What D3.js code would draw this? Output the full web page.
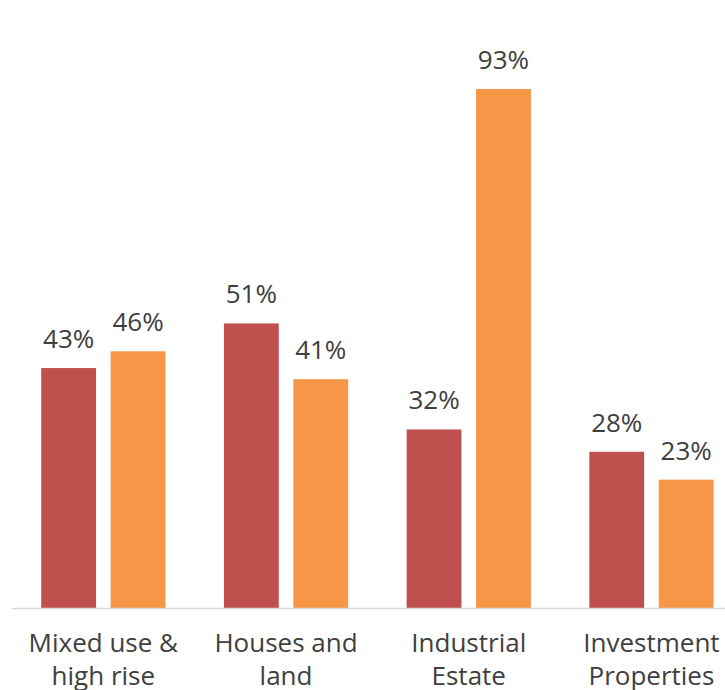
<!DOCTYPE html>
<html>
<head>
<meta charset="utf-8">
<script src="https://cdn.jsdelivr.net/npm/d3@7"></script>
<style>
  body { margin: 0; background: #fff; }
  #chart { width: 725px; height: 690px; overflow: hidden; }
  text { font-family: "Open Sans", sans-serif; fill: #404040; }
</style>
</head>
<body>
<div id="chart"></div>
<script>
// chart data
const categories = [['Mixed use &', 'high rise'], ['Houses and', 'land'], ['Industrial', 'Estate'], ['Investment', 'Properties']];
const seriesNames = ['series1', 'series2'];
const series1 = [0.43, 0.51, 0.32, 0.28];
const series2 = [0.46, 0.41, 0.93, 0.23];
const colors = ['#C0504D', '#F79646'];

const width = 725;
const height = 690;
const baseY = 608;

const svg = d3.select('#chart')
  .append('svg')
  .attr('width', width)
  .attr('height', height);

// bands run past the right edge, like the cropped original
const x0 = d3.scaleBand()
  .domain(d3.range(categories.length))
  .range([12, 12 + 4 * 182.7])
  .paddingInner(0.32)
  .paddingOuter(0.16);

const x1 = d3.scaleBand()
  .domain(seriesNames)
  .range([0, x0.bandwidth()])
  .paddingInner(0.21);

const y = d3.scaleLinear()
  .domain([0, 1])
  .range([baseY, 50]);

const rows = categories.map((c, i) => ({
  i,
  values: [series1[i], series2[i]].map((v, k) => ({ key: seriesNames[k], v, k })),
}));

const groups = svg.selectAll('.group')
  .data(rows)
  .enter()
  .append('g')
  .attr('class', 'group')
  .attr('transform', (d) => `translate(${x0(d.i)},0)`);

groups.selectAll('rect')
  .data((d) => d.values)
  .enter()
  .append('rect')
  .attr('x', (d) => x1(d.key))
  .attr('y', (d) => y(d.v))
  .attr('width', x1.bandwidth())
  .attr('height', (d) => baseY - y(d.v))
  .attr('fill', (d) => colors[d.k]);

groups.selectAll('.value-label')
  .data((d) => d.values)
  .enter()
  .append('text')
  .attr('class', 'value-label')
  .attr('x', (d) => x1(d.key) + x1.bandwidth() / 2)
  .attr('y', (d) => y(d.v) - 20)
  .attr('text-anchor', 'middle')
  .style('font-size', '26px')
  .text((d) => d3.format('.0%')(d.v));

// baseline
svg.append('line')
  .attr('x1', 12)
  .attr('x2', width)
  .attr('y1', baseY + 0.5)
  .attr('y2', baseY + 0.5)
  .attr('stroke', '#D9D9D9')
  .attr('stroke-width', 1.5);

// category labels
const cat = svg.selectAll('.cat-label')
  .data(categories)
  .enter()
  .append('text')
  .attr('class', 'cat-label')
  .attr('text-anchor', 'middle')
  .style('font-size', '26px');

cat.selectAll('tspan')
  .data((d, i) => d.map((line) => ({ line, i })))
  .enter()
  .append('tspan')
  .attr('x', (d) => x0(d.i) + x0.bandwidth() / 2)
  .attr('y', (d, j) => 652 + j * 33)
  .text((d) => d.line);
</script>
</body>
</html>
